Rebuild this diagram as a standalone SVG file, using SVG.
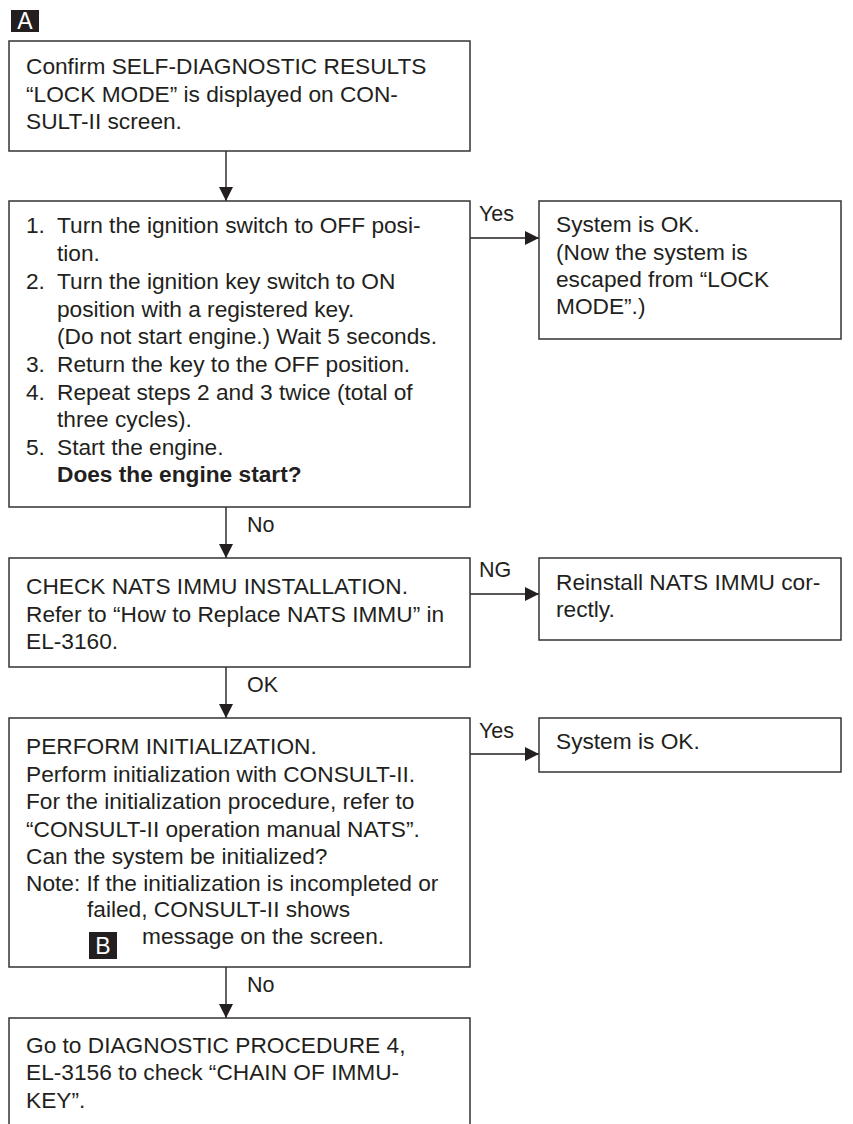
<svg xmlns="http://www.w3.org/2000/svg" width="853" height="1124" viewBox="0 0 853 1124">
<style>
.box{fill:#fff;stroke:#333;stroke-width:1.5}
.t{font-family:"Liberation Sans",Arial,sans-serif;font-size:22.7px;fill:#231f20}
.b{font-weight:bold}
.lbl{font-family:"Liberation Sans",Arial,sans-serif;font-size:21.5px;fill:#231f20}
.badge{fill:#231f20}
.bt{font-family:"Liberation Sans",Arial,sans-serif;font-size:23px;fill:#fff}
.c{fill:none;stroke:#231f20;stroke-width:1.4}
</style>
<defs>
<marker id="ah" viewBox="0 0 14 14" refX="14" refY="7" markerWidth="14" markerHeight="14" markerUnits="userSpaceOnUse" orient="auto">
<path d="M0,0 L14,7 L0,14 Z" fill="#231f20"/>
</marker>
</defs>
<rect width="853" height="1124" fill="#fff"/>
<g id="badgeA"><rect class="badge" x="11" y="10" width="28" height="22"/><text class="bt" x="25" y="29" text-anchor="middle">A</text></g>

<g id="connectors">
<line class="c" x1="226" y1="151" x2="226" y2="201" marker-end="url(#ah)"/>
<line class="c" x1="470" y1="238" x2="539" y2="238" marker-end="url(#ah)"/>
<text class="lbl" x="479" y="221">Yes</text>
<line class="c" x1="226" y1="507" x2="226" y2="558" marker-end="url(#ah)"/>
<text class="lbl" x="247" y="532">No</text>
<line class="c" x1="470" y1="594" x2="539" y2="594" marker-end="url(#ah)"/>
<text class="lbl" x="479" y="577">NG</text>
<line class="c" x1="226" y1="667" x2="226" y2="718" marker-end="url(#ah)"/>
<text class="lbl" x="247" y="692">OK</text>
<line class="c" x1="470" y1="754" x2="539" y2="754" marker-end="url(#ah)"/>
<text class="lbl" x="479" y="738">Yes</text>
<line class="c" x1="226" y1="967" x2="226" y2="1018" marker-end="url(#ah)"/>
<text class="lbl" x="247" y="992">No</text>
</g>

<g id="n1"><rect class="box" x="9" y="41" width="461" height="110"/>
<text class="t" x="26" y="74">Confirm SELF-DIAGNOSTIC RESULTS</text>
<text class="t" x="26" y="101.5">“LOCK MODE” is displayed on CON-</text>
<text class="t" x="26" y="129">SULT-II screen.</text></g>

<g id="n2"><rect class="box" x="9" y="201" width="461" height="306"/>
<text class="t" x="26" y="233">1.</text><text class="t" x="57" y="233">Turn the ignition switch to OFF posi-</text>
<text class="t" x="57" y="261">tion.</text>
<text class="t" x="26" y="289">2.</text><text class="t" x="57" y="289">Turn the ignition key switch to ON</text>
<text class="t" x="57" y="317">position with a registered key.</text>
<text class="t" x="57" y="344">(Do not start engine.) Wait 5 seconds.</text>
<text class="t" x="26" y="372">3.</text><text class="t" x="57" y="372">Return the key to the OFF position.</text>
<text class="t" x="26" y="400">4.</text><text class="t" x="57" y="400">Repeat steps 2 and 3 twice (total of</text>
<text class="t" x="57" y="427">three cycles).</text>
<text class="t" x="26" y="455">5.</text><text class="t" x="57" y="455">Start the engine.</text>
<text class="t b" x="57" y="482">Does the engine start?</text></g>

<g id="n3"><rect class="box" x="539" y="201" width="302" height="138"/>
<text class="t" x="556" y="232">System is OK.</text>
<text class="t" x="556" y="260">(Now the system is</text>
<text class="t" x="556" y="287">escaped from “LOCK</text>
<text class="t" x="556" y="314">MODE”.)</text></g>

<g id="n4"><rect class="box" x="9" y="558" width="461" height="109"/>
<text class="t" x="26" y="594">CHECK NATS IMMU INSTALLATION.</text>
<text class="t" x="26" y="621.5">Refer to “How to Replace NATS IMMU” in</text>
<text class="t" x="26" y="649">EL-3160.</text></g>

<g id="n5"><rect class="box" x="539" y="558" width="302" height="82"/>
<text class="t" x="556" y="590">Reinstall NATS IMMU cor-</text>
<text class="t" x="556" y="617">rectly.</text></g>

<g id="n6"><rect class="box" x="9" y="718" width="461" height="249"/>
<text class="t" x="26" y="754">PERFORM INITIALIZATION.</text>
<text class="t" x="26" y="782">Perform initialization with CONSULT-II.</text>
<text class="t" x="26" y="809">For the initialization procedure, refer to</text>
<text class="t" x="26" y="837">“CONSULT-II operation manual NATS”.</text>
<text class="t" x="26" y="864">Can the system be initialized?</text>
<text class="t" x="26" y="891">Note: If the initialization is incompleted or</text>
<text class="t" x="87" y="917">failed, CONSULT-II shows</text>
<text class="t" x="142" y="944">message on the screen.</text>
<g id="badgeB"><rect class="badge" x="89" y="932" width="28" height="27"/><text class="bt" x="103" y="954" text-anchor="middle">B</text></g></g>

<g id="n7"><rect class="box" x="539" y="718" width="302" height="54"/>
<text class="t" x="556" y="749">System is OK.</text></g>

<g id="n8"><rect class="box" x="9" y="1018" width="461" height="120"/>
<text class="t" x="26" y="1053">Go to DIAGNOSTIC PROCEDURE 4,</text>
<text class="t" x="26" y="1080">EL-3156 to check “CHAIN OF IMMU-</text>
<text class="t" x="26" y="1108">KEY”.</text></g>
</svg>
